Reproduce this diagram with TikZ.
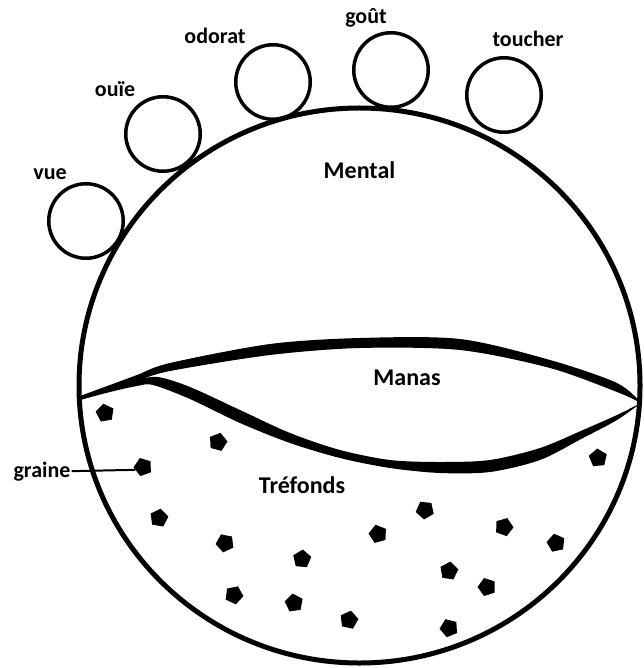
\documentclass[tikz,border=0pt]{standalone}
\usepackage{fontspec}
\setmainfont{Carlito}
\usetikzlibrary{positioning,shapes.geometric}

\begin{document}
\begin{tikzpicture}[x=1pt, y=-1pt,
    mind/.style={draw, ellipse, line width=5pt, minimum width=561pt,
                 minimum height=555pt, inner sep=0pt},
    sense/.style={draw, circle, line width=3.5pt, minimum size=74.5pt, inner sep=0pt},
    seed/.style={fill=black, regular polygon, regular polygon sides=5,
                 minimum size=19pt, inner sep=0pt},
    lbl/.style={font=\fontsize{22}{26}\selectfont\bfseries, anchor=base, inner sep=1pt},
    zone/.style={font=\fontsize{24}{28}\selectfont\bfseries, anchor=base, inner sep=1pt}]
  \useasboundingbox (0,0) rectangle (643,668);
  % big circle
  \node[mind] (mental) at (359.5,385.5) {};
  % sense circles (top)
  \node[sense] (vue) at (86,221) {};
  \node[sense] (ouie) at (163,134) {};
  \node[sense] (odorat) at (273,82) {};
  \node[sense] (gout) at (391,70) {};
  \node[sense] (toucher) at (504,95) {};
  % manas lens
  \fill plot[smooth] coordinates {(80,396) (110,385) (137,375) (170,363) (270,344)
      (360,338) (460,339) (550,360) (617,383) (641,403)}
    -- plot[smooth] coordinates {(641,403) (617,392) (550,368) (460,350) (360,348)
      (270,355) (170,371) (137,381) (110,390) (80,400)} -- cycle;
  \fill plot[smooth] coordinates {(80,397) (110,388) (137,380) (158,377) (190,387)
      (240,410) (290,433) (340,450) (390,460) (440,462) (490,460) (540,448)
      (583,430) (617,415) (641,403)}
    -- plot[smooth] coordinates {(641,403) (617,420) (583,438) (540,460) (490,472)
      (440,473) (390,468) (340,458) (290,443) (240,423) (190,399) (153,385)
      (137,386) (110,392) (80,400)} -- cycle;
  % seeds
  \foreach \px/\py/\rot [count=\i] in {105/413/10, 218/442/-15, 143/467/20, 598/458/5,
      159/518/-10, 225/543/25, 302/559/-5, 378/534/15, 425/510/30, 504/527/-20,
      556/543/12, 449/571/-8, 487/587/18, 234/595/-25, 294/603/8, 349/620/-12, 449/628/22}
    \node[seed, rotate=\rot] (s\i) at (\px,\py) {};
  % labels
  \node[lbl] (vueL) at (50,180) {vue};
  \node[lbl] (ouieL) at (115,97) {ouïe};
  \node[lbl] (odoratL) at (215,44) {odorat};
  \node[lbl] (goutL) at (366,24) {goût};
  \node[lbl] (toucherL) at (528,47) {toucher};
  \node[zone] (mentalL) at (359.5,179) {Mental};
  \node[zone] (manasL) at (407,385) {Manas};
  \node[zone] (trefL) at (302,493) {Tréfonds};
  \node[lbl] (graine) at (42,477) {graine};
  \draw[line width=2pt] (graine.east) -- (s3.west);
\end{tikzpicture}
\end{document}
